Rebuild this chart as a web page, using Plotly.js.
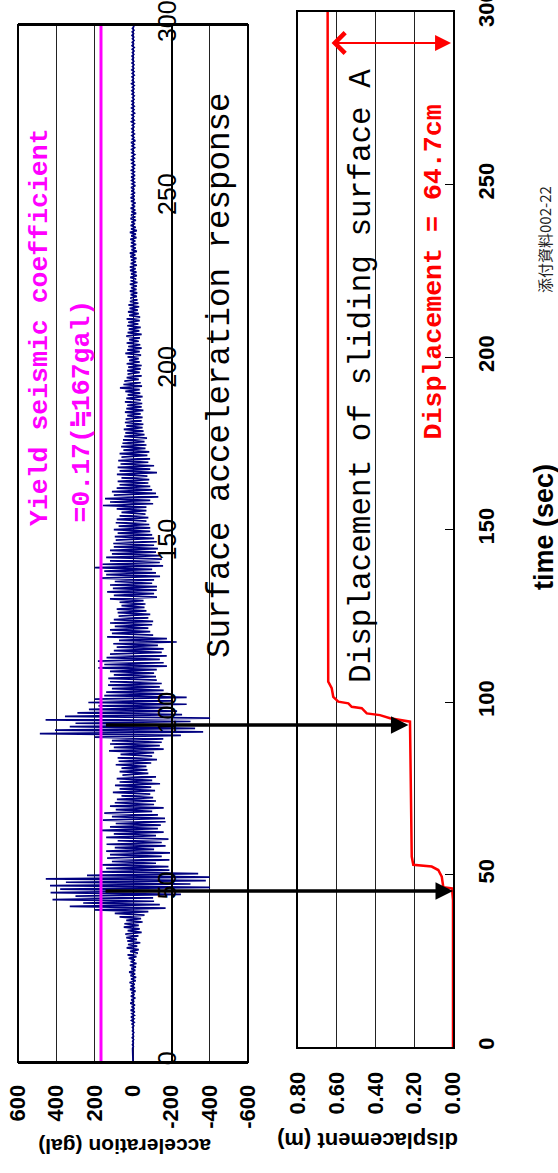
<!DOCTYPE html>
<html><head><meta charset="utf-8">
<script src="https://cdn.plot.ly/plotly-3.0.1.min.js"></script>
<style>html,body{margin:0;padding:0;background:#fff}#chart{width:558px;height:1173px}</style>
</head><body><div id="chart"></div>
<script>
// ---- data ----
const accStep = 0.5; // seconds between samples
const accValues = [
0,0,0,0,0,0,1,-1,2,-2,3,-2,2,-3,4,-3,2,-4,3,-2,
3,-4,5,-6,8,-5,10,-7,6,-9,12,-8,7,-10,14,-6,9,-12,11,-8,
8,-13,15,-10,12,-9,18,-14,10,-16,13,-11,20,-12,9,-15,16,-18,12,-10,
22,-18,28,-25,15,-30,33,-22,26,-38,30,-20,35,-28,40,-45,28,-35,48,-30,
45,-50,35,-42,70,-60,95,-80,200,-170,330,-140,260,-110,420,-105,300,-250,430,-200,
380,-402,433,-300,350,-380,455,-400,240,-340,170,-190,140,-185,160,-120,110,-190,135,-150,
120,-193,140,-110,95,-170,138,-150,80,-185,140,-120,100,-160,170,-130,120,-145,90,-170,
157,-167,110,-130,150,-100,90,-160,120,-110,95,-120,84,-105,60,-90,105,-115,70,-95,
94,-141,70,-100,85,-120,55,-80,70,-75,60,-70,90,-95,75,-125,80,-100,65,-110,
125,-160,100,-140,120,-150,110,-158,200,-250,486,-366,407,-324,330,-280,300,-300,456,-402,
355,-256,290,-230,230,-200,180,-280,233,-200,200,-280,150,-170,140,-160,110,-140,130,-150,
120,-124,129,-120,100,-110,120,-124,181,-177,150,-160,183,-140,138,-176,120,-150,100,-160,
85,-130,103,-228,73,-177,135,-105,110,-90,120,-80,95,-100,120,-105,100,-80,75,-90,
80,-70,85,-60,60,-65,70,-55,120,-125,100,-110,135,-124,105,-125,120,-100,95,-110,
172,-141,140,-120,150,-100,198,-157,160,-140,120,-150,140,-141,110,-120,120,-130,100,-110,
103,-124,90,-110,95,-100,80,-90,100,-90,75,-85,90,-70,85,-80,70,-65,60,-70,
85,-70,157,-105,120,-90,146,-132,100,-120,110,-100,85,-90,70,-80,80,-85,60,-75,
84,-125,70,-90,80,-110,65,-80,77,-89,60,-75,70,-85,50,-65,62,-70,55,-60,
52,-73,45,-60,40,-55,48,-50,35,-54,42,-45,38,-50,30,-40,42,-54,35,-45,
30,-48,42,-40,35,-50,28,-38,40,-35,68,-47,50,-40,45,-30,33,-45,28,-35,
30,-40,25,-45,33,-35,20,-30,28,-42,40,-35,30,-45,25,-38,33,-30,20,-36,
35,-45,28,-33,22,-40,30,-28,25,-35,33,-37,20,-30,26,-25,18,-32,24,-28,
16,-23,14,-20,12,-22,16,-18,10,-20,16,-23,12,-16,14,-20,10,-18,15,-14,
16,-20,12,-15,10,-18,14,-12,16,-20,8,-14,12,-16,10,-12,14,-18,9,-15,
16,-20,10,-14,12,-10,8,-15,13,-12,10,-16,8,-12,12,-10,6,-13,10,-9,
12,-8,6,-10,8,-7,10,-12,5,-8,7,-6,9,-10,5,-7,8,-6,4,-9,
6,-5,8,-7,5,-9,6,-4,7,-8,5,-6,10,-12,4,-5,6,-7,5,-4,
6,-5,4,-7,8,-6,5,-4,6,-8,4,-5,7,-6,5,-4,6,-5,3,-6,
5,-4,6,-5,4,-6,7,-5,4,-3,5,-6,4,-5,6,-4,3,-5,5,-4,
4,-3,5,-4,3,-5,4,-6,5,-3,4,-5,3,-4,5,-3,4,-5,3,-4,
0
];
const accTime = accValues.map((_, i) => i * accStep);

const yieldAcc = 167;          // gal  (0.17 g)
const timeRange = [0, 300];

const dispTime  = [0, 42.6, 46.0, 46.3, 49.4, 51.3, 52.3, 52.6, 52.8, 55.2, 94.3, 95.3, 96.2, 96.7, 98.2, 98.6, 99.6, 100.1, 101.5, 104.0, 105.9, 300];
const dispValue = [0, 0, 0.005, 0.05, 0.058, 0.076, 0.11, 0.153, 0.205, 0.213, 0.222, 0.325, 0.377, 0.445, 0.471, 0.523, 0.54, 0.592, 0.618, 0.626, 0.644, 0.647];

const slipTime = [45.2, 93.3];   // s, start of each sliding event
const slipDisp = [0.0, 0.23];    // m, displacement at that moment
const finalDispTime = 291;

const accTicks  = [600, 400, 200, 0, -200, -400, -600];
const accTickText = ['600', '400', '200', '0', '-200', '-400', '-600'];
const dispTicks = [0.8, 0.6, 0.4, 0.2, 0];
const timeTicks = [0, 50, 100, 150, 200, 250, 300];

const accTitle = 'acceleration (gal)';
const dispTitle = 'displacement (m)';
const timeTitle = 'time (sec)';
const yieldLabel1 = 'Yield seismic coefficient';
const yieldLabel2 = '=0.17(≒167gal)';
const accLabel = 'Surface acceleration response';
const dispLabel = 'Displacement of sliding surface A';
const dispResult = 'Displacement = 64.7cm';
const docLabel = '添付資料002-22';

// ---- traces ----
const traces = [
  {x: accValues, y: accTime, xaxis: 'x', yaxis: 'y', type: 'scatter', mode: 'lines',
   line: {color: '#000080', width: 1.7}},
  {x: [yieldAcc, yieldAcc], y: timeRange, xaxis: 'x', yaxis: 'y', type: 'scatter', mode: 'lines',
   line: {color: '#FF00FF', width: 3}},
  {x: dispValue, y: dispTime, xaxis: 'x2', yaxis: 'y2', type: 'scatter', mode: 'lines',
   line: {color: '#FF0000', width: 2.5}}
];

const W = 558, H = 1173;
const px = v => v / W, py = v => 1 - v / H;

const mono = 'Liberation Mono, DejaVu Sans Mono, Noto Sans CJK JP, monospace';
const sans = 'Liberation Sans, Arial, sans-serif';

function label(text, x, y, angle, font, yanchor) {
  return {xref: 'paper', yref: 'paper', x: px(x), y: py(y), xanchor: 'center',
          yanchor: yanchor || 'middle', text: text, showarrow: false, textangle: angle, font: font};
}

const layout = {
  width: W, height: H,
  margin: {l: 0, r: 0, t: 0, b: 0},
  paper_bgcolor: '#fff', plot_bgcolor: '#fff',
  showlegend: false,
  hovermode: false,
  font: {family: sans, color: '#000'},
  xaxis: {
    domain: [px(18), px(248)], range: [600, -600], anchor: 'y',
    tickvals: accTicks, ticktext: accTickText, tickangle: -90, ticks: '',
    showgrid: true, gridcolor: '#222', gridwidth: 1, zeroline: false,
    showline: true, mirror: true, linecolor: '#000', linewidth: 2,
    tickfont: {family: sans, size: 22, weight: 'bold', color: '#000'},
    ticklabelstandoff: 12
  },
  yaxis: {
    domain: [py(1062), py(25)], range: timeRange, anchor: 'free', position: px(171),
    tickvals: timeTicks, tickangle: -90, ticks: '',
    showgrid: false, zeroline: false, showline: true, linecolor: '#000', linewidth: 1.5,
    tickfont: {family: sans, size: 25, color: '#000'},
    ticklabelstandoff: -15, ticklabeloverflow: 'allow'
  },
  xaxis2: {
    domain: [px(298), px(453)], range: [0.8, 0], anchor: 'y2',
    tickvals: dispTicks, tickformat: '.2f', tickangle: -90, ticks: '',
    showgrid: true, gridcolor: '#222', gridwidth: 1, zeroline: false,
    showline: true, mirror: true, linecolor: '#000', linewidth: 2,
    tickfont: {family: sans, size: 22, weight: 'bold', color: '#000'},
    ticklabelstandoff: 14
  },
  yaxis2: {
    domain: [py(1047), py(12)], range: timeRange, anchor: 'x2', side: 'right',
    tickvals: timeTicks, tickangle: -90, ticks: 'inside', ticklen: 8, tickcolor: '#000', tickwidth: 1,
    showgrid: false, zeroline: false, showline: true, mirror: true, linecolor: '#000', linewidth: 2,
    tickfont: {family: sans, size: 22, weight: 'bold', color: '#000'},
    ticklabelstandoff: 13, ticklabeloverflow: 'allow'
  },
  shapes: [
    {type: 'rect', xref: 'x domain', yref: 'y domain', x0: 0, x1: 1, y0: 0, y1: 1,
     line: {color: '#000', width: 2}}
  ],
  annotations: [
    label(accTitle, 125, 1147, 180, {family: sans, size: 21, weight: 'bold', color: '#000'}),
    label(dispTitle, 368, 1141, 180, {family: sans, size: 22, weight: 'bold', color: '#000'}),
    label(timeTitle, 544, 527, -90, {family: sans, size: 27, weight: 'bold', color: '#000'}),
    label(docLabel, 545, 240, -90, {family: 'Noto Sans CJK JP', size: 15, color: '#222'}),
    label(yieldLabel1, 40, 528, -90, {family: mono, size: 26.5, weight: 'bold', color: '#FF00FF'}, 'bottom'),
    label(yieldLabel2, 81, 525, -90, {family: mono, size: 26.5, weight: 'bold', color: '#FF00FF'}, 'bottom'),
    label(accLabel, 220, 660, -90, {family: mono, size: 32.5, color: '#000'}, 'bottom'),
    label(dispLabel, 361, 685, -90, {family: mono, size: 31, color: '#000'}, 'bottom'),
    label(dispResult, 433, 442, -90, {family: mono, size: 26.6, weight: 'bold', color: '#FF0000'}, 'bottom'),
    // slip event arrows
    {xref: 'x2', yref: 'y2', x: slipDisp[1], y: slipTime[1], text: '', showarrow: true,
     axref: 'pixel', ayref: 'pixel', ax: -304, ay: 0, arrowhead: 2, arrowsize: 1, arrowwidth: 3.5,
     arrowcolor: '#000', standoff: 0},
    {xref: 'x2', yref: 'y2', x: slipDisp[0], y: slipTime[0], text: '', showarrow: true,
     axref: 'pixel', ayref: 'pixel', ax: -349, ay: 0, arrowhead: 2, arrowsize: 1, arrowwidth: 3.5,
     arrowcolor: '#000', standoff: 0},
    // final displacement double arrow
    {xref: 'x2', yref: 'y2', x: 0.01, y: finalDispTime, text: '', showarrow: true,
     axref: 'pixel', ayref: 'pixel', ax: -121, ay: 0, arrowside: 'end+start',
     arrowhead: 2, arrowsize: 1.6, startarrowhead: 4, startarrowsize: 2.0, arrowwidth: 2,
     arrowcolor: '#FF0000', standoff: 0, startstandoff: 0}
  ]
};

Plotly.newPlot('chart', traces, layout, {staticPlot: true, displayModeBar: false});
</script>
</body></html>
